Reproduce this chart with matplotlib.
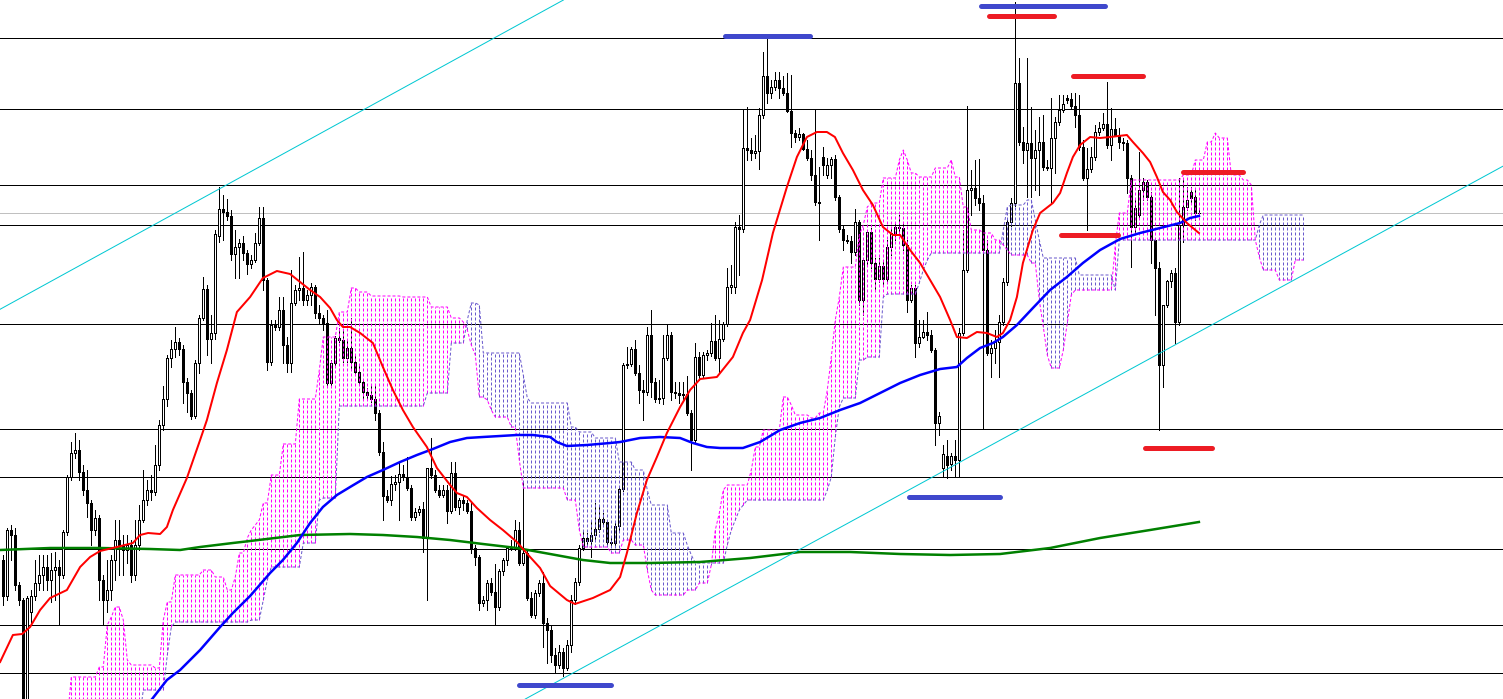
import numpy as np
import matplotlib
matplotlib.use("Agg")
import matplotlib.pyplot as plt

# ---------------- candle data (bar index 0..299, price units) ----------------
open_ = [
    140,104,170,165,115,100,1,88,104,117,
    125,133,120,130,133,125,168,223,247,250,
    228,210,197,170,182,120,100,110,140,160,
    155,150,155,125,155,180,200,210,208,235,
    275,301,342,351,358,351,318,307,284,337,
    382,411,361,367,464,491,488,484,446,453,
    457,447,436,440,457,482,420,338,375,373,
    390,355,337,397,410,412,400,405,413,387,
    382,377,317,337,362,360,342,352,338,328,
    318,308,305,301,287,248,204,200,216,218,
    226,223,212,183,188,191,162,232,225,210,
    205,210,189,227,193,200,197,189,152,143,
    97,100,117,108,93,129,140,152,153,170,
    137,147,102,85,107,117,77,70,45,35,
    48,32,55,100,118,152,162,159,165,171,
    181,178,158,157,174,211,335,336,351,327,
    310,308,365,318,301,302,342,365,308,307,
    305,306,287,260,343,325,345,347,359,342,
    361,376,413,413,473,471,552,550,547,549,
    585,624,607,613,620,612,607,589,567,563,
    566,551,542,525,498,543,525,535,541,503,
    471,460,459,448,478,400,440,468,437,421,
    434,421,453,467,473,472,455,400,412,357,
    363,368,365,350,277,232,244,236,244,240,
    367,430,510,512,502,497,450,347,352,358,
    378,418,478,497,617,558,550,557,542,550,
    558,533,532,562,578,590,602,601,594,585,
    553,522,531,543,568,572,576,555,571,565,
    558,557,522,473,485,510,518,503,460,432,
    335,395,419,427,378,475,493,508,503,487,
]
high = [
    145,172,175,172,118,102,104,110,140,145,
    145,145,147,148,140,170,225,258,267,260,
    235,230,200,190,185,125,140,145,180,180,
    165,165,160,180,195,230,220,225,255,280,
    314,345,360,373,362,355,322,310,340,385,
    423,415,385,470,513,505,501,490,470,461,
    464,450,445,467,493,493,422,380,380,403,
    403,363,430,415,443,448,410,417,415,395,
    385,390,340,364,372,370,360,382,345,335,
    320,312,315,315,290,258,210,224,225,238,
    235,243,215,192,194,198,232,262,230,215,
    215,215,238,238,202,205,200,198,155,145,
    104,120,122,136,131,142,154,160,180,178,
    218,150,108,110,120,128,82,75,52,55,
    52,60,105,122,155,168,167,180,197,193,
    187,180,162,178,212,337,353,353,360,335,
    320,373,390,322,320,365,375,368,318,318,
    318,324,290,357,348,348,350,377,385,380,
    378,432,435,478,485,590,593,562,565,592,
    648,662,620,628,628,624,627,625,570,572,
    567,560,550,591,533,553,542,543,545,505,
    475,465,464,491,480,442,470,472,442,442,
    438,460,472,478,485,476,460,415,415,380,
    380,388,370,352,288,255,260,247,260,372,
    470,594,530,540,541,505,460,360,370,385,
    422,482,502,698,642,573,642,593,570,583,
    585,540,602,583,605,605,605,607,607,605,
    560,552,553,575,578,587,618,592,582,572,
    562,560,525,500,548,522,520,508,462,438,
    395,420,430,432,522,522,513,513,512,490,
]
low = [
    95,100,140,110,95,-12,-12,75,100,110,
    110,110,98,100,75,122,165,220,242,220,
    205,183,155,165,100,75,88,100,120,125,
    125,137,118,120,150,178,195,200,205,230,
    270,294,333,343,345,297,288,281,282,327,
    380,345,337,361,458,460,480,440,422,422,
    440,426,432,438,455,410,330,335,370,370,
    337,328,328,395,400,395,395,395,382,377,
    370,315,315,335,358,338,338,330,325,315,
    300,300,298,280,245,180,198,195,210,180,
    220,210,180,180,185,148,100,222,208,203,
    203,177,187,190,186,190,187,147,135,90,
    94,90,105,75,90,125,135,150,150,135,
    135,100,83,82,104,53,37,38,28,32,
    24,30,48,96,115,150,155,143,160,168,
    175,155,153,153,170,209,332,334,325,297,
    280,305,303,298,297,296,340,300,302,297,
    300,285,230,258,320,322,340,344,340,327,
    359,374,407,407,425,468,540,540,542,531,
    582,597,602,610,602,605,588,553,558,560,
    550,540,520,495,460,525,522,522,500,468,
    450,457,437,445,395,385,435,432,410,418,
    415,418,445,460,468,450,388,398,343,353,
    362,360,348,255,265,223,222,230,223,224,
    365,428,485,495,490,271,345,323,337,323,
    375,415,474,494,555,537,503,503,510,505,
    530,530,497,527,575,588,597,592,573,550,
    520,470,528,540,565,570,552,540,565,552,
    550,507,433,468,482,500,500,437,385,270,
    313,393,413,357,375,458,490,498,480,484,
]
close = [
    104,170,165,115,100,1,102,104,117,125,
    133,120,130,133,125,168,223,247,250,228,
    210,197,170,182,120,100,110,140,160,155,
    150,155,125,155,180,200,210,208,235,275,
    301,342,351,358,351,318,307,284,337,382,
    411,361,367,466,491,488,484,446,453,457,
    447,436,440,457,482,420,338,375,373,390,
    355,337,397,410,412,400,405,413,387,382,
    377,317,337,362,360,342,352,338,328,318,
    308,305,301,287,248,204,200,216,218,226,
    223,212,183,188,191,162,232,225,210,205,
    210,189,227,193,200,197,189,152,143,97,
    100,117,108,93,129,140,152,153,170,137,
    147,102,85,107,117,77,70,45,35,48,
    32,55,100,118,152,162,159,165,171,181,
    178,158,157,174,211,335,336,351,327,310,
    308,365,318,301,302,342,365,308,307,305,
    306,287,260,343,325,345,347,359,342,361,
    376,413,415,473,471,552,550,547,549,585,
    624,607,613,620,612,607,589,567,563,566,
    551,542,525,498,497,535,535,541,503,471,
    460,459,448,478,400,440,468,437,421,434,
    421,453,467,473,472,455,400,412,357,363,
    368,365,350,277,284,246,235,244,240,367,
    430,510,512,502,497,450,347,352,358,378,
    418,478,497,617,558,550,557,542,550,558,
    533,532,562,578,590,596,600,594,585,553,
    522,531,543,568,572,576,555,571,565,558,
    557,522,473,492,510,518,503,460,432,335,
    395,419,427,378,475,493,500,502,487,487,
]

# ---------------- moving averages (sampled: bar position, value) ----------------
red_ma_x = [-0.8,2.4,4.7,6.7,9.2,11.7,15.9,19.2,21.7,24.2,28.4,32.4,34.2,36.2,39.2,40.9,42.4,45.9,49.2,50.9,
            53.4,55.9,58.4,61.7,64.9,68.4,71.7,74.2,76.7,79.2,81.7,83.4,84.9,86.7,89.2,92.4,94.9,97.4,99.9,102.4,
            105.9,108.4,111.7,113.4,115.9,118.4,121.7,124.9,128.4,131.7,134.2,136.7,140.9,142.9,147.4,151.7,154.2,155.9,158.4,160.9,
            163.4,165.9,169.2,171.7,174.2,178.4,182.4,184.9,186.7,189.7,192.4,195.9,198.4,200.9,203.4,205.9,207.9,209.9,212.4,214.9,
            217.4,219.9,222.4,224.2,226.7,229.2,231.7,234.2,236.7,238.4,240.9,243.4,245.9,248.4,249.9,251.7,253.4,254.9,257.4,259.2,
            262.4,264.2,265.9,267.4,269.2,271.7,274.2,276.7,280.9,282.4,284.9,286.7,288.4,289.9,291.7,293.4,295.9,298.9]
red_ma_y = [38,65,66,73,90,102,110,133,143,149,153,157,165,167,166,173,190,222,260,280,
            317,350,388,403,422,429,426,418,410,403,392,380,373,373,367,357,333,310,290,273,
            253,232,215,207,203,192,180,170,158,143,132,114,100,96,102,110,123,147,187,220,
            243,267,293,310,321,323,343,367,380,420,467,513,543,563,568,568,563,547,530,510,
            495,473,465,465,450,437,420,403,380,363,362,368,367,363,367,380,403,437,470,487,
            497,507,527,543,555,563,562,563,565,558,547,538,523,508,500,488,477,467]

blue_ma_x = [34.2,37.2,40.9,44.2,49.2,54.2,57.4,61.7,66.7,69.9,73.4,76.7,79.9,83.4,86.7,90.9,94.9,99.2,103.4,107.4,111.7,
             115.9,119.9,124.2,128.4,132.4,136.7,138.4,140.9,145.9,151.7,154.2,159.2,164.2,169.2,172.4,
             175.9,179.2,184.9,189.2,194.2,199.2,204.2,209.2,214.2,219.2,224.2,229.2,234.2,238.4,240.9,
             244.2,247.4,249.9,253.4,257.4,261.7,265.9,269.9,274.2,279.2,284.2,289.2,294.2,296.7,298.9]
blue_ma_y = [-12,1,20,30,50,73,87,104,127,140,157,177,193,205,213,223,230,238,245,251,258,
             262,263,264,265,265,263,258,254,255,257,258,262,263,262,257,
             253,252,252,258,270,277,282,290,297,307,317,325,331,333,342,
             352,357,363,375,392,410,423,437,450,461,467,472,477,482,484]

green_ma_x = [-0.8,11.7,24.2,36.7,44.2,49.2,57.4,61.7,74.2,86.7,94.9,103.4,111.7,119.9,128.4,
              136.7,144.9,151.7,161.7,174.2,186.7,199.2,211.7,224.2,236.7,249.2,261.7,274.2,286.7,298.9]
green_ma_y = [150,152,152,151,150,153,157,159,165,166,165,163,160,156,152,
              146,140,137,137,138,142,148,148,146,145,146,152,162,170,178]

# ---------------- Ichimoku cloud spans (run starts in bars, values) ----------------
cloud_len = 326
span_a_start = [0,17,24,26,27,28,30,31,32,38,40,41,43,50,53,56,58,59,61,62,63,64,65,67,70,74,79,80,84,87,
                89,92,100,107,112,115,116,117,118,119,121,122,123,127,129,130,141,144,145,152,155,158,161,162,163,
                171,174,177,178,179,180,181,187,188,190,195,197,198,202,204,206,207,208,209,210,214,215,216,217,220,
                224,225,226,227,229,233,237,238,240,242,245,248,250,251,252,257,259,260,261,262,265,266,267,268,278,
                279,282,295,298,301,303,304,307,310,312,313,314,315,319,323]
span_a_val = [-20,23,33,75,83,93,80,40,35,32,80,98,125,130,123,110,123,147,162,170,175,180,197,225,256,301,330,363,388,412,
              408,404,403,393,382,378,370,355,345,303,300,290,283,273,240,212,200,170,153,147,160,155,130,110,105,
              110,117,135,170,187,210,215,230,253,270,303,295,285,282,287,310,343,380,403,433,465,475,493,497,522,
              540,550,540,527,523,532,540,523,493,470,467,460,455,450,445,437,400,373,345,332,350,377,405,410,455,
              487,520,525,540,558,567,562,525,520,515,460,443,430,420,440]
span_b_start = [0,35,41,42,43,62,65,66,67,75,79,80,84,106,112,116,117,119,120,130,131,132,142,144,148,154,158,
                161,162,167,171,172,173,181,182,183,184,185,186,206,207,208,209,210,214,216,220,221,229,230,231,232,
                250,251,252,256,258,259,260,269,278,279,314,315]
span_b_val = [-20,10,45,73,78,80,100,120,133,157,200,202,294,307,357,380,397,395,347,325,302,297,273,268,262,238,230,
              210,195,167,155,145,137,155,170,180,190,195,200,210,223,263,293,302,340,343,403,406,417,430,440,447,
              470,493,495,500,480,460,442,425,410,460,475,485]

# ---------------- horizontal levels, trendlines, marks ----------------
h_levels = [662, 591, 515, 475, 376, 271, 223, 151, 75, 27]
bid_level = 487
trend_upper = [(0, 392.5), (100, 612.1)]
trend_lower = [(150, 43.5), (300, 370.5)]
mark_level = [664, 694, 684, 624, 465, 528, 252, 203, 15]
mark_from = [180.3, 244.3, 246.5, 267.3, 264.3, 295.0, 285.5, 226.3, 129.0]
mark_to = [201.6, 275.3, 262.6, 284.8, 278.6, 309.8, 302.1, 249.1, 151.8]
mark_kind = ['b', 'b', 'r', 'r', 'r', 'r', 'r', 'b', 'b']

# ---------------- drawing ----------------
PX = 0.72  # one pixel in points at dpi 100
fig = plt.figure(figsize=(15.03, 6.99), dpi=100, facecolor='white')
ax = fig.add_axes([0, 0, 1, 1])
ax.set_axis_off()
ax.set_xlim(-0.825, 374.925)
ax.set_ylim(1, 700)

# horizontal lines
for lv in h_levels:
    ax.axhline(lv, color='black', lw=PX, zorder=1, antialiased=False)
ax.axhline(bid_level, color='#c0c0c0', lw=PX, zorder=1, antialiased=False)

# candles
n = min(len(open_), len(high), len(low), len(close))
o = np.array(open_[:n], float)
c = np.array(close[:n], float)
h = np.maximum(np.array(high[:n], float), np.maximum(o, c))
l = np.minimum(np.array(low[:n], float), np.minimum(o, c))
k = np.arange(n)
ax.vlines(k, l, h, color='black', lw=PX, zorder=2, antialiased=False)
bull = c >= o
ax.bar(k[bull], np.maximum(c - o, 0.01)[bull], bottom=o[bull], width=0.5, color='white',
       edgecolor='black', linewidth=PX, zorder=3, antialiased=False)
ax.bar(k[~bull], (o - c)[~bull], bottom=c[~bull], width=0.5, color='black',
       edgecolor='black', linewidth=PX, zorder=3, antialiased=False)

# cloud
def expand(starts, vals, size):
    out = np.full(size, np.nan)
    m = min(len(starts), len(vals))
    bounds = list(starts[1:m]) + [size]
    for s, e, v in zip(starts[:m], bounds, vals[:m]):
        out[s:e] = v
    return out

span_a = expand(span_a_start, span_a_val, cloud_len)
span_b = expand(span_b_start, span_b_val, cloud_len)
kc = np.arange(cloud_len)
MAG = '#ff00ff'
SLB = '#6a5acd'
dash = (0, (3, 2))
up = span_a >= span_b
ax.vlines(kc[up], np.minimum(span_a, span_b)[up], np.maximum(span_a, span_b)[up],
          colors=MAG, linestyles=dash, lw=PX, zorder=4)
ax.vlines(kc[~up], np.minimum(span_a, span_b)[~up], np.maximum(span_a, span_b)[~up],
          colors=SLB, linestyles=dash, lw=PX, zorder=4)
ax.plot(kc, span_b, color=SLB, lw=PX, ls=dash, zorder=4)
ax.plot(kc, span_a, color=MAG, lw=PX, ls=dash, zorder=4)

# moving averages
ax.plot(green_ma_x[:len(green_ma_y)], green_ma_y[:len(green_ma_x)], color='#008000', lw=2.5 * PX, zorder=5)
ax.plot(blue_ma_x[:len(blue_ma_y)], blue_ma_y[:len(blue_ma_x)], color='#0000ff', lw=2.5 * PX, zorder=5)
ax.plot(red_ma_x[:len(red_ma_y)], red_ma_y[:len(red_ma_x)], color='#ff0000', lw=2 * PX, zorder=5)

# trendlines
ax.axline(trend_upper[0], trend_upper[1], color='#00c8d2', lw=PX, zorder=6)
ax.axline(trend_lower[0], trend_lower[1], color='#00c8d2', lw=PX, zorder=6)

# marks
for lv, a, b, kind in zip(mark_level, mark_from, mark_to, mark_kind):
    col = '#3f48cc' if kind == 'b' else '#ed1c24'
    ax.plot([a, b], [lv, lv], color=col, lw=5 * PX, solid_capstyle='round', zorder=7)

fig.savefig('out.png', dpi=100, facecolor='white')
